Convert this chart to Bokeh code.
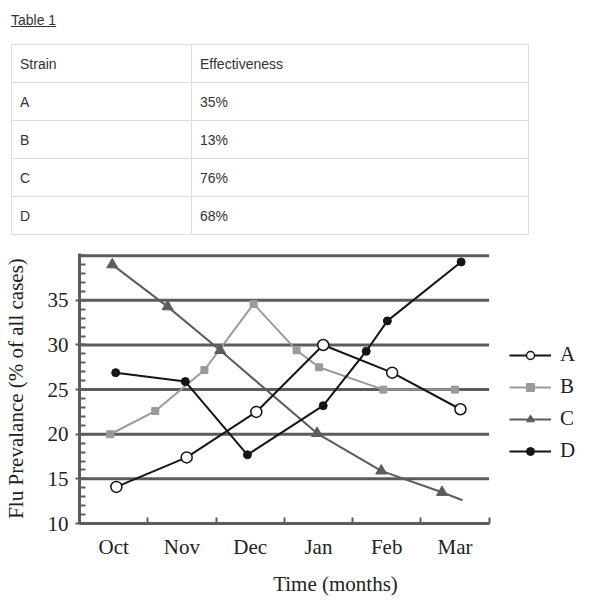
from bokeh.plotting import figure
from bokeh.models import FixedTicker, Legend, LegendItem, Div
from bokeh.layouts import column
from bokeh.embed import file_html
from bokeh.resources import INLINE

# ---- data ----
months = ["Oct", "Nov", "Dec", "Jan", "Feb", "Mar"]
strains = ["A", "B", "C", "D"]
effectiveness = ["35%", "13%", "76%", "68%"]

a_x = [0.04, 1.07, 2.09, 3.07, 4.08, 5.08]
a_y = [14.1, 17.4, 22.5, 30.0, 26.9, 22.8]
b_x = [-0.05, 0.61, 1.33, 2.05, 2.68, 3.01, 3.95, 5.0]
b_y = [20.0, 22.6, 27.2, 34.6, 29.4, 27.5, 25.0, 25.0]
c_x = [-0.02, 0.79, 1.56, 2.98, 3.92, 4.81, 5.11]
c_y = [39.0, 34.3, 29.4, 20.1, 15.9, 13.5, 12.6]
d_x = [0.03, 1.05, 1.96, 3.07, 3.70, 4.01, 5.09]
d_y = [26.9, 25.9, 17.7, 23.2, 29.3, 32.7, 39.3]

y_major = [10, 15, 20, 25, 30, 35]
grid_vals = [15, 20, 25, 30, 35, 40]

# ---- table ----
cell = ("border:1px solid #dddddd;height:38px;padding:0 0 0 8px;"
        "vertical-align:middle;font-size:14px;color:#333333;")
rows = "<tr><td style='%s width:180px'>Strain</td><td style='%s'>Effectiveness</td></tr>" % (cell, cell)
for s, e in zip(strains, effectiveness):
    rows += "<tr><td style='%s'>%s</td><td style='%s'>%s</td></tr>" % (cell, s, cell, e)
html = (
    "<div style=\"font-family:'Liberation Sans',Arial,sans-serif;color:#333333;padding:6px 0 0 3px;\">"
    "<div style='font-size:14px;line-height:18px;text-decoration:underline;margin-left:3px;'>Table 1</div>"
    "<table style='border-collapse:collapse;width:518px;margin:15px 0 0 3px;'>"
    + rows + "</table></div>"
)
div = Div(text=html, width=591, height=232)

# ---- chart ----
FONT = "Liberation Serif"
GRAY = "#5c5c5c"
FS = "21px"
X_LO, X_HI = -0.5, len(months) - 0.5
p = figure(width=595, height=356, output_backend="svg", toolbar_location=None,
           x_range=(X_LO, 7.0), y_range=(10, 40.25),
           min_border_left=79, min_border_right=4, min_border_top=11,
           min_border_bottom=70)
p.outline_line_color = None
p.xgrid.visible = False
p.ygrid.visible = False

# horizontal reference lines, limited to the month span
p.segment(x0=[X_LO] * len(grid_vals), y0=grid_vals,
          x1=[X_HI] * len(grid_vals), y1=grid_vals,
          line_color=GRAY, line_width=3)

p.xaxis.bounds = (X_LO, X_HI)
p.xaxis.ticker = FixedTicker(ticks=list(range(len(months))),
                             minor_ticks=[i - 0.5 for i in range(len(months) + 1)])
p.xaxis.major_label_overrides = {i: m for i, m in enumerate(months)}
p.xaxis.major_tick_in = 0
p.xaxis.major_tick_out = 0
p.xaxis.minor_tick_in = 6
p.xaxis.minor_tick_out = 0
p.xaxis.minor_tick_line_width = 2
p.xaxis.minor_tick_line_color = GRAY
p.xaxis.major_label_standoff = 11
p.xaxis.axis_label = "Time (months)"
p.xaxis.axis_label_standoff = 10

p.yaxis.ticker = FixedTicker(ticks=y_major, minor_ticks=list(range(10, 41)))
p.yaxis.major_tick_in = 0
p.yaxis.major_tick_out = 4
p.yaxis.major_tick_line_width = 2
p.yaxis.major_tick_line_color = GRAY
p.yaxis.minor_tick_in = 6
p.yaxis.minor_tick_out = 0
p.yaxis.minor_tick_line_width = 2
p.yaxis.minor_tick_line_color = GRAY
p.yaxis.major_label_standoff = 7
p.yaxis.axis_label = "Flu Prevalance (% of all cases)"
p.yaxis.axis_label_standoff = 17

for ax in (p.xaxis, p.yaxis):
    ax.axis_line_color = GRAY
    ax.axis_line_width = 3
    ax.major_label_text_font = FONT
    ax.major_label_text_font_size = FS
    ax.major_label_text_color = "#222222"
    ax.axis_label_text_font = FONT
    ax.axis_label_text_font_size = FS
    ax.axis_label_text_font_style = "normal"
    ax.axis_label_text_color = "#222222"

BLACK = "#151515"
LIGHT = "#9a9a9a"

lb = p.line(b_x, b_y, line_color=LIGHT, line_width=2)
sb = p.scatter(b_x, b_y, marker="square", size=7, fill_color=LIGHT, line_color=LIGHT)
lc = p.line(c_x, c_y, line_color=GRAY, line_width=2)
sc = p.scatter(c_x[:-1], c_y[:-1], marker="triangle", size=11, fill_color=GRAY, line_color=GRAY)
ld = p.line(d_x, d_y, line_color=BLACK, line_width=2)
sd = p.scatter(d_x, d_y, marker="circle", size=8, fill_color=BLACK, line_color=BLACK)
la = p.line(a_x, a_y, line_color=BLACK, line_width=2)
sa = p.scatter(a_x, a_y, marker="circle", size=11, fill_color="white", line_color=BLACK, line_width=1.5)

legend = Legend(items=[
    LegendItem(label="A", renderers=[la, sa]),
    LegendItem(label="B", renderers=[lb, sb]),
    LegendItem(label="C", renderers=[lc, sc]),
    LegendItem(label="D", renderers=[ld, sd]),
], location=(430, 60))
legend.padding = 0
legend.margin = 0
legend.border_line_color = None
legend.background_fill_alpha = 0
legend.glyph_width = 42
legend.glyph_height = 20
legend.label_height = 20
legend.spacing = 7
legend.label_standoff = 9
legend.label_text_font = FONT
legend.label_text_font_size = FS
legend.label_text_color = "#222222"
p.add_layout(legend)

layout = column(div, p)
open("out.html", "w").write(file_html(layout, INLINE))
